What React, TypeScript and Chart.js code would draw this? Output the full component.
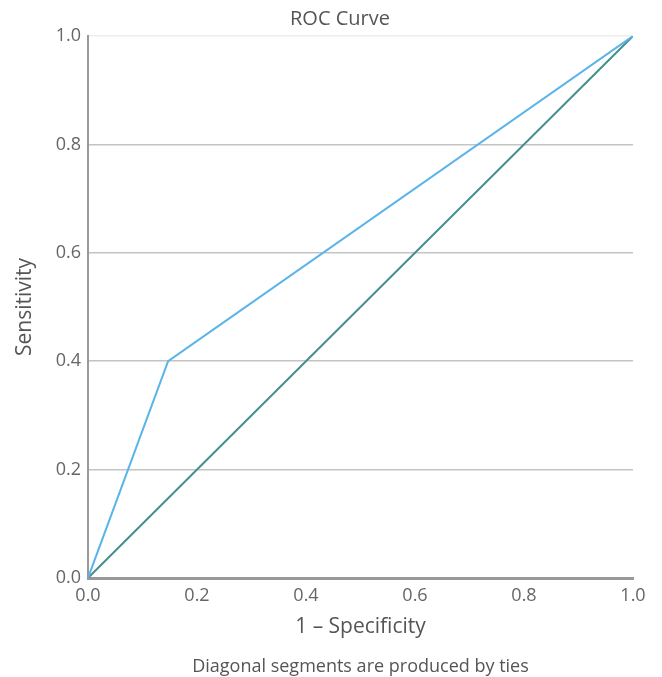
import React, { useEffect, useRef } from "react";
import { Chart, registerables } from "chart.js";

Chart.register(...registerables);

const rocFpr = [0, 0.147, 1];
const rocTpr = [0, 0.4, 1];
const refFpr = [0, 1];
const refTpr = [0, 1];
const tickValues = [0, 0.2, 0.4, 0.6, 0.8, 1.0];
const chartTitle = "ROC Curve";
const footnote = "Diagonal segments are produced by ties";

const FONT = "'Open Sans', sans-serif";
const W = 662;
const H = 677;

const textPlugin = {
  id: "textPlugin",
  afterDraw(chart: any) {
    const { ctx, chartArea } = chart;
    ctx.save();
    ctx.fillStyle = "#555";
    ctx.textAlign = "center";
    ctx.textBaseline = "middle";
    ctx.font = `20px ${FONT}`;
    ctx.fillText(chartTitle, chart.width / 2 + 9, 19);
    ctx.textBaseline = "alphabetic";
    ctx.font = `18px ${FONT}`;
    ctx.fillText(footnote, (chartArea.left + chartArea.right) / 2, 672);
    ctx.restore();
  },
};

export default function App() {
  const ref = useRef<HTMLCanvasElement>(null);
  useEffect(() => {
    if (!ref.current) return;
    const chart = new Chart(ref.current, {
      type: "scatter",
      data: {
        datasets: [
          {
            label: "ROC",
            data: rocFpr.map((x, i) => ({ x, y: rocTpr[i] })),
            showLine: true,
            borderColor: "#5ab4e9",
            borderWidth: 2,
            pointRadius: 0,
            fill: false,
          },
          {
            label: "Reference",
            data: refFpr.map((x, i) => ({ x, y: refTpr[i] })),
            showLine: true,
            borderColor: "#468f8b",
            borderWidth: 2,
            pointRadius: 0,
            fill: false,
          },
        ],
      },
      options: {
        animation: false,
        responsive: false,
        maintainAspectRatio: false,
        layout: { padding: { left: 0, right: 29, top: 36, bottom: 37 } },
        plugins: {
          legend: { display: false },
          tooltip: { enabled: false },
          title: { display: false },
        },
        scales: {
          x: {
            type: "linear",
            min: 0,
            max: 1,
            afterBuildTicks: (s: any) => {
              s.ticks = tickValues.map((v) => ({ value: v }));
            },
            afterFit: (s: any) => {
              s.height = 62;
            },
            ticks: {
              color: "#666",
              font: { family: FONT, size: 18 },
              padding: 7,
              callback: (v: any) => Number(v).toFixed(1),
              maxRotation: 0,
            },
            grid: { display: false, drawTicks: false },
            border: { display: true, color: "#999", width: 3 },
            title: {
              display: true,
              text: "1 – Specificity",
              color: "#555",
              font: { family: FONT, size: 21 },
              padding: { top: 0, bottom: 0 },
            },
          },
          y: {
            type: "linear",
            min: 0,
            max: 1,
            afterBuildTicks: (s: any) => {
              s.ticks = tickValues.map((v) => ({ value: v }));
            },
            afterFit: (s: any) => {
              s.width = 88;
            },
            ticks: {
              color: "#666",
              font: { family: FONT, size: 18 },
              padding: 7,
              callback: (v: any) => Number(v).toFixed(1),
            },
            grid: {
              drawTicks: false,
              color: (ctx: any) => (ctx.tick && ctx.tick.value === 1 ? "#eeeeee" : "#c4c4c4"),
              lineWidth: 1.5,
            },
            border: { display: true, color: "#999", width: 2 },
            title: {
              display: true,
              text: "Sensitivity",
              color: "#555",
              font: { family: FONT, size: 21 },
              padding: { top: 12, bottom: 0 },
            },
          },
        },
      },
      plugins: [textPlugin],
    });
    return () => chart.destroy();
  }, []);
  return (
    <div style={{ position: "fixed", left: 0, top: 0, width: W, height: H }}>
      <canvas ref={ref} width={W} height={H} style={{ width: W, height: H, display: "block" }} />
    </div>
  );
}
